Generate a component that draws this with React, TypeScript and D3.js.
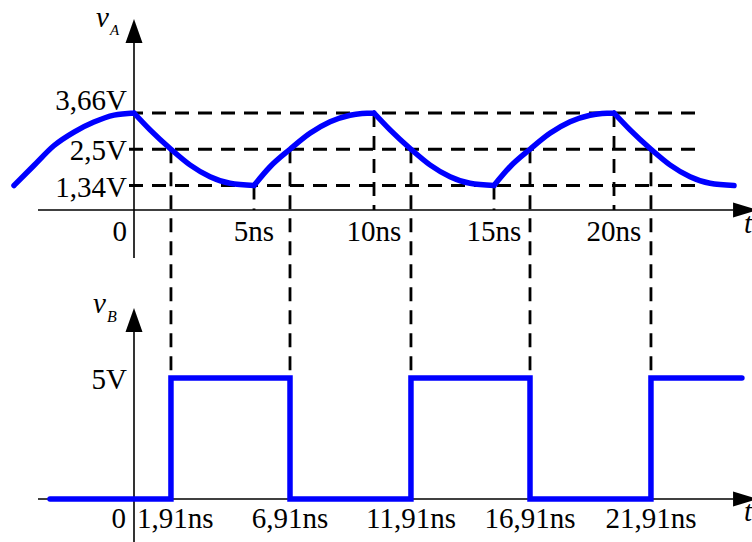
import React from "react";
import * as d3 from "d3";

// ---- data ----
// v_A waveform (time in ns, value in V); cusps at the break times
const vaTimes = [
  -5, -4.17, -3.33, -2.5, -1.67, -0.83, 0,
  0.67, 1.54, 2.33, 3.17, 4, 5,
  5.67, 6.5, 7.33, 8.17, 9, 9.5, 10,
  10.67, 11.54, 12.33, 13.17, 14, 15,
  15.67, 16.5, 17.33, 18.17, 19, 19.5, 20,
  20.67, 21.54, 22.33, 23.17, 24, 25,
];
const vaValues = [
  1.34, 1.98, 2.62, 3.05, 3.37, 3.59, 3.66,
  3.12, 2.5, 2.0, 1.62, 1.41, 1.34,
  1.94, 2.5, 3.01, 3.38, 3.59, 3.645, 3.66,
  3.12, 2.5, 2.0, 1.62, 1.41, 1.34,
  1.94, 2.5, 3.01, 3.38, 3.59, 3.645, 3.66,
  3.12, 2.5, 2.0, 1.62, 1.41, 1.34,
];
const vaBreaks = [0, 5, 10, 15, 20];

// v_B square wave (step after)
const vbTimes = [-3.5, 1.54, 6.5, 11.54, 16.5, 21.54, 25.33];
const vbValues = [0, 5, 0, 5, 0, 5, 5];

// reference levels and labels
const vaLevels = [3.66, 2.5, 1.34];
const vaLevelLabels = ["3,66V", "2,5V", "1,34V"];
const vaTickTimes = [5, 10, 15, 20];
const vaTickLabels = ["5ns", "10ns", "15ns", "20ns"];
const vaTickValues = [1.34, 3.66, 1.34, 3.66];
const crossTimes = [1.54, 6.5, 11.54, 16.5, 21.54];
const crossLabels = ["1,91ns", "6,91ns", "11,91ns", "16,91ns", "21,91ns"];
const vbLevels = [5];
const vbLevelLabels = ["5V"];
const thresholdLevel = 2.5;
const axisStartTime = -4;
const refLineEndTime = 23.7;
const axisEndTime = 24.96;

// ---- layout ----
const W = 752;
const H = 542;
const FONT = "Liberation Serif";
const FS = 29;
const BLUE = "#0000ff";

function T(props: any) {
  const { children, ...rest } = props;
  return (
    <text fontFamily={FONT} fill="#000" {...rest}>
      {children}
    </text>
  );
}

export default function App() {
  const x = d3.scaleLinear().domain([0, 20]).range([134, 614]);
  const yA = d3.scaleLinear().domain([1.34, 3.66]).range([185.5, 113]);
  const yB = d3.scaleLinear().domain([0, 5]).range([499, 378]);
  const axisAY = 210;
  const axisBY = yB(0);
  const x0 = x(0);

  const pts = vaTimes.map((t, i) => [t, vaValues[i]] as [number, number]);
  const segs: [number, number][][] = [];
  let cur: [number, number][] = [];
  pts.forEach((p) => {
    cur.push(p);
    if (vaBreaks.includes(p[0])) {
      segs.push(cur);
      cur = [p];
    }
  });
  if (cur.length > 1) segs.push(cur);
  const lineA = d3
    .line<[number, number]>()
    .x((d) => x(d[0]))
    .y((d) => yA(d[1]))
    .curve(d3.curveMonotoneX);
  const pathA = segs.map((s) => lineA(s)).join("");

  const lineB = d3
    .line<[number, number]>()
    .x((d) => x(d[0]))
    .y((d) => yB(d[1]))
    .curve(d3.curveStepAfter);
  const pathB = lineB(vbTimes.map((t, i) => [t, vbValues[i]] as [number, number]));

  const dash = { stroke: "#000", strokeWidth: 2.8, strokeDasharray: "14 9", fill: "none" };
  const axisStyle = { stroke: "#000", strokeWidth: 1.6 };
  const maxLevel = d3.max(vaLevels) as number;

  const arrowUp = (tipY: number) =>
    `M${x0},${tipY} L${x0 - 8.5},${tipY + 24} L${x0 + 8.5},${tipY + 24} Z`;
  const arrowRight = (yy: number) => {
    const bx = x(axisEndTime);
    return `M${bx},${yy - 7.5} L${bx + 25},${yy} L${bx},${yy + 7.5} Z`;
  };

  return (
    <svg
      width={W}
      height={H}
      style={{ position: "absolute", left: 0, top: 0, background: "#fff" }}
    >
      <rect width={W} height={H} fill="#fff" />
      {vaLevels.map((v) => (
        <line key={"h" + v} x1={x0 - 5} x2={x(refLineEndTime)} y1={yA(v)} y2={yA(v)} {...dash} />
      ))}
      {vaTickTimes.map((t, i) => (
        <line key={"vt" + t} x1={x(t)} x2={x(t)} y1={yA(vaTickValues[i])} y2={axisAY} {...dash} />
      ))}
      {crossTimes.map((t) => (
        <line key={"c" + t} x1={x(t)} x2={x(t)} y1={yA(thresholdLevel)} y2={yB(5)} {...dash} />
      ))}

      <line x1={x(axisStartTime)} x2={x(axisEndTime)} y1={axisAY} y2={axisAY} {...axisStyle} />
      <path d={arrowRight(axisAY)} fill="#000" />
      <line x1={x0} x2={x0} y1={258} y2={40} {...axisStyle} />
      <path d={arrowUp(19)} fill="#000" />
      <line x1={x(axisStartTime)} x2={x(axisEndTime)} y1={axisBY} y2={axisBY} {...axisStyle} />
      <path d={arrowRight(axisBY)} fill="#000" />
      <line x1={x0} x2={x0} y1={H} y2={330} {...axisStyle} />
      <path d={arrowUp(308)} fill="#000" />

      <path d={pathA} fill="none" stroke={BLUE} strokeWidth={5.5} strokeLinecap="round" strokeLinejoin="round" />
      <path d={pathB || ""} fill="none" stroke={BLUE} strokeWidth={5.5} strokeLinecap="round" strokeLinejoin="miter" />

      {vaLevels.map((v, i) => (
        <T key={"l" + v} x={x0 - 7} y={v === maxLevel ? yA(v) - 3 : yA(v) + 11} textAnchor="end" fontSize={FS}>
          {vaLevelLabels[i]}
        </T>
      ))}
      {vbLevels.map((v, i) => (
        <T key={"lb" + v} x={x0 - 7} y={yB(v) + 11} textAnchor="end" fontSize={FS}>
          {vbLevelLabels[i]}
        </T>
      ))}

      <T x={x0 - 7} y={axisAY + 31} textAnchor="end" fontSize={FS}>0</T>
      {vaTickTimes.map((t, i) => (
        <T key={"tl" + t} x={x(t)} y={axisAY + 31} textAnchor="middle" fontSize={FS}>
          {vaTickLabels[i]}
        </T>
      ))}
      <T x={x0 - 8} y={axisBY + 29} textAnchor="end" fontSize={FS}>0</T>
      {crossTimes.map((t, i) =>
        i === 0 ? (
          <T key={"cl" + t} x={x0 + 3} y={axisBY + 29} textAnchor="start" fontSize={FS}>
            {crossLabels[i]}
          </T>
        ) : (
          <T key={"cl" + t} x={x(t)} y={axisBY + 29} textAnchor="middle" fontSize={FS}>
            {crossLabels[i]}
          </T>
        )
      )}

      <T x={96} y={27} fontSize={29} fontStyle="italic">v</T>
      <T x={110} y={35} fontSize={15} fontStyle="italic">A</T>
      <T x={93} y={313} fontSize={29} fontStyle="italic">v</T>
      <T x={107} y={322} fontSize={16} fontStyle="italic">B</T>
      <T x={744} y={axisAY + 23} fontSize={29} fontStyle="italic">t</T>
      <T x={744} y={axisBY + 22} fontSize={29} fontStyle="italic">t</T>
    </svg>
  );
}
